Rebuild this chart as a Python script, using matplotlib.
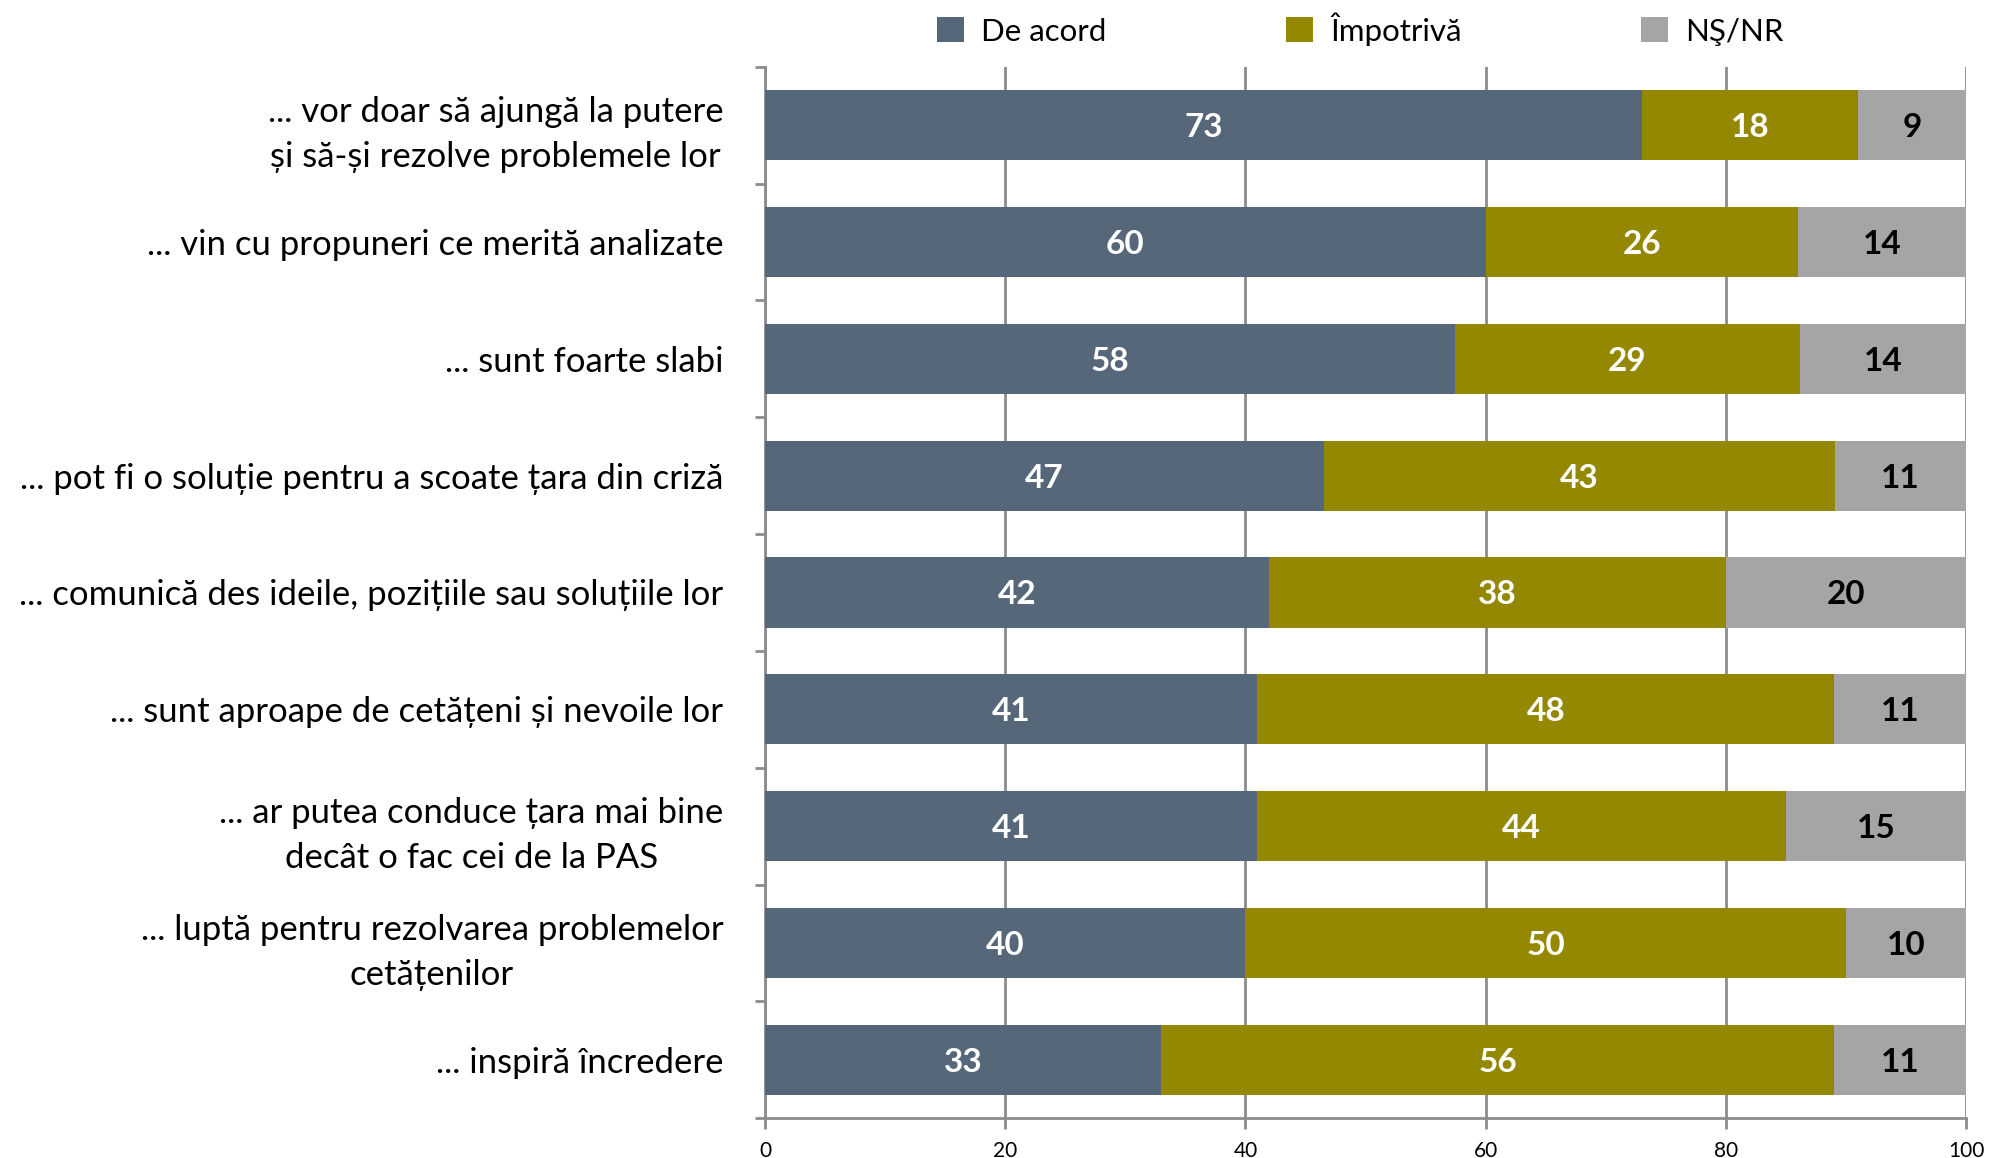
import matplotlib
matplotlib.use("Agg")
import matplotlib.pyplot as plt
import numpy as np

categories = [
    "... vor doar să ajungă la putere\nși să-și rezolve problemele lor",
    "... vin cu propuneri ce merită analizate",
    "... sunt foarte slabi",
    "... pot fi o soluție pentru a scoate țara din criză",
    "... comunică des ideile, pozițiile sau soluțiile lor",
    "... sunt aproape de cetățeni și nevoile lor",
    "... ar putea conduce țara mai bine\ndecât o fac cei de la PAS",
    "... luptă pentru rezolvarea problemelor\ncetățenilor",
    "... inspiră încredere",
]
de_acord = [73, 60, 58, 47, 42, 41, 41, 40, 33]
impotriva = [18, 26, 29, 43, 38, 48, 44, 50, 56]
ns_nr = [9, 14, 14, 11, 20, 11, 15, 10, 11]
series_names = ["De acord", "Împotrivă", "NŞ/NR"]
series_colors = ["#566779", "#938800", "#A5A5A5"]
label_colors = ["white", "white", "black"]
x_ticks = [0, 20, 40, 60, 80, 100]

plt.rcParams['font.family'] = ['Lato', 'DejaVu Sans']

fig = plt.figure(figsize=(19.89, 11.58), dpi=100)
ax = fig.add_axes([0.3846, 0.0343, 0.6039, 0.9081])

data = np.array([de_acord, impotriva, ns_nr], dtype=float)
pct = data / data.sum(axis=0) * 100
y = np.arange(len(categories))
left = np.zeros(len(categories))
for i, name in enumerate(series_names):
    ax.barh(y, pct[i], left=left, height=0.6, color=series_colors[i],
            label=name, zorder=3)
    for j in range(len(categories)):
        ax.text(left[j] + pct[i][j] / 2, y[j], str(int(data[i][j])),
                ha='center', va='center_baseline', color=label_colors[i],
                fontsize=24, fontweight='bold', zorder=4)
    left += pct[i]

ax.set_xlim(0, 100)
ax.set_ylim(len(categories) - 0.5, -0.5)

grid_col = '#8C8C8C'
ax.set_xticks(x_ticks)
ax.set_xticklabels([str(t) for t in x_ticks], fontsize=15)
ax.xaxis.grid(True, color=grid_col, lw=2, zorder=0)
ax.tick_params(axis='x', direction='out', length=8, width=2, color=grid_col, pad=8)

ax.set_yticks(y)
ax.set_yticklabels(categories, fontsize=25)
for t in ax.get_yticklabels():
    t.set_multialignment('center')
    t.set_linespacing(1.5)
ax.set_yticks(np.arange(-0.5, len(categories), 1.0), minor=True)
ax.tick_params(axis='y', which='major', length=0, pad=30)
ax.tick_params(axis='y', which='minor', direction='out', length=7, width=2, color=grid_col)

for s in ['top', 'right']:
    ax.spines[s].set_visible(False)
for s in ['left', 'bottom']:
    ax.spines[s].set_color(grid_col)
    ax.spines[s].set_linewidth(2)

fig.legend(loc='center', bbox_to_anchor=(0.684, 0.975), ncol=3, frameon=False,
           fontsize=22.5, handlelength=0.85, handleheight=0.85, handletextpad=0.55,
           columnspacing=5.75)

fig.savefig("out.png", dpi=100)
